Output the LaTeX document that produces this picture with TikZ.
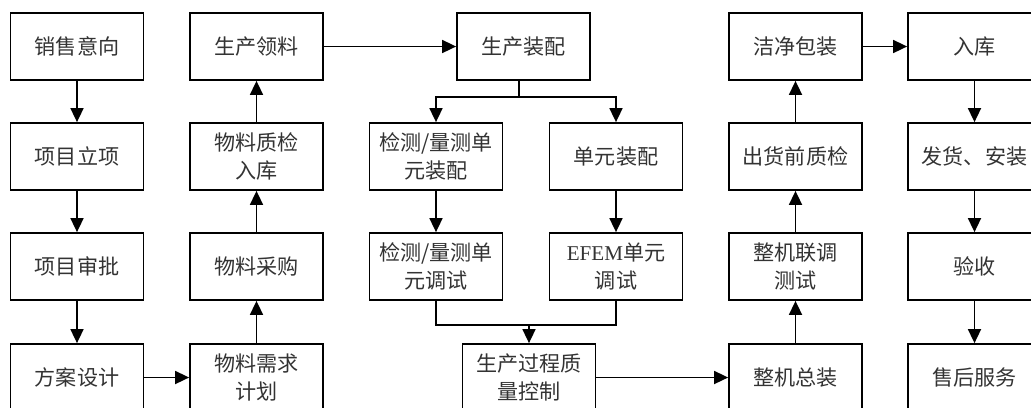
\documentclass[tikz,border=0pt]{standalone}
\usepackage{fontspec}
\setmainfont{Noto Sans CJK SC}
\newfontfamily\latinfont{Liberation Serif}
\usetikzlibrary{arrows.meta}

\begin{document}
\begin{tikzpicture}[line cap=round,>={Triangle[length=8pt,width=7.4pt]},x=0.02cm,y=-0.02cm,
    box/.style={draw,line width=1pt,minimum width=2.66cm,minimum height=1.34cm,inner sep=0pt,
        align=center,text=black!80,font=\fontsize{12}{16}\selectfont},
    link/.style={line width=1pt}]
            \useasboundingbox (0,0) rectangle (1031,407);
            \clip (0,0) rectangle (1031,407);
            \node[box] (xsyx) at (77,46.5) {销售意向};
            \node[box] (xmlx) at (77,156.5) {项目立项};
            \node[box] (xmsp) at (77,266.5) {项目审批};
            \node[box] (fasj) at (77,377.5) {方案设计};
            \node[box] (scll) at (256.5,46.5) {生产领料};
            \node[box] (wlzj) at (256.5,156.5) {物料质检\\入库};
            \node[box] (wlcg) at (256.5,266.5) {物料采购};
            \node[box] (wlxq) at (256.5,377.5) {物料需求\\计划};
            \node[box] (sczp) at (523.5,46.5) {生产装配};
            \node[box] (jczp) at (436,156.5) {检测/量测单\\元装配};
            \node[box] (dyzp) at (616,156.5) {单元装配};
            \node[box] (jcts) at (436,266.5) {检测/量测单\\元调试};
            \node[box] (efem) at (616,266.5) {{\latinfont EFEM}单元\\调试};
            \node[box] (scgc) at (529,377.5) {生产过程质\\量控制};
            \node[box] (jjbz) at (795.5,46.5) {洁净包装};
            \node[box] (chzj) at (795.5,156.5) {出货前质检};
            \node[box] (zjts) at (795.5,266.5) {整机联调\\测试};
            \node[box] (zjzz) at (795.5,377.5) {整机总装};
            \node[box] (rk) at (974.5,46.5) {入库};
            \node[box] (fhaz) at (974.5,156.5) {发货、安装};
            \node[box] (ys) at (974.5,266.5) {验收};
            \node[box] (shfw) at (974.5,377.5) {售后服务};
            \coordinate (fork) at (519,97);
            \coordinate (merge) at (529,325);
            \draw [->,link] (xsyx) -- (xmlx);
            \draw [->,link] (xmlx) -- (xmsp);
            \draw [->,link] (xmsp) -- (fasj);
            \draw [->,link] (fasj) -- (wlxq);
            \draw [->,link] (wlxq) -- (wlcg);
            \draw [->,link] (wlcg) -- (wlzj);
            \draw [->,link] (wlzj) -- (scll);
            \draw [->,link] (scll) -- (sczp);
            \draw [link] (fork |- sczp.south) -- (fork);
            \draw [->,link] (fork) -| (jczp);
            \draw [->,link] (fork) -| (dyzp);
            \draw [->,link] (jczp) -- (jcts);
            \draw [->,link] (dyzp) -- (efem);
            \draw [link] (jcts) |- (merge);
            \draw [link] (efem) |- (merge);
            \draw [->,link] (merge) -- (scgc);
            \draw [->,link] (scgc) -- (zjzz);
            \draw [->,link] (zjzz) -- (zjts);
            \draw [->,link] (zjts) -- (chzj);
            \draw [->,link] (chzj) -- (jjbz);
            \draw [->,link] (jjbz) -- (rk);
            \draw [->,link] (rk) -- (fhaz);
            \draw [->,link] (fhaz) -- (ys);
            \draw [->,link] (ys) -- (shfw);
        \end{tikzpicture}
\end{document}
